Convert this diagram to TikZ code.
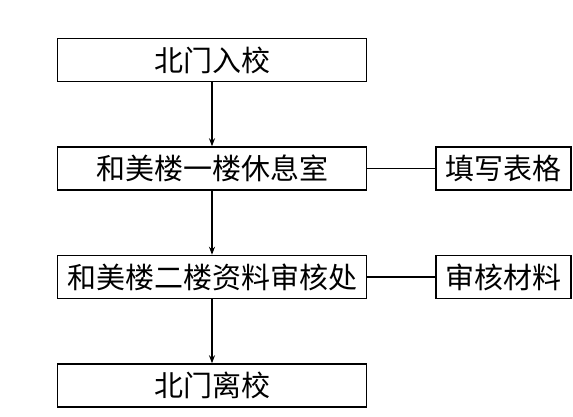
\documentclass[tikz,border=0pt]{standalone}
\usepackage{fontspec}
\newfontfamily\cjk{Noto Sans CJK SC}
\usetikzlibrary{arrows.meta,positioning}

\begin{document}
\begin{tikzpicture}[
  x=1pt, y=-1pt,
  node distance=64pt and 68pt,
  stage/.style={draw, line width=1.5pt, minimum width=309pt, minimum height=43pt, inner sep=0pt, font=\cjk\fontsize{29}{31}\selectfont},
  task/.style={stage, minimum width=135pt},
  link/.style={line width=1.5pt},
  >={Stealth[length=8pt,width=6pt]}
]
\useasboundingbox (0,0) rectangle (573,416);

% Main flow
\node[stage] (entry) at (212,60) {北门入校};
\node[stage, below=of entry] (rest) {和美楼一楼休息室};
\node[stage, below=of rest] (check) {和美楼二楼资料审核处};
\node[stage, below=of check] (exit) {北门离校};

% Side tasks
\node[task, right=of rest] (form) {填写表格};
\node[task, right=of check] (review) {审核材料};

% Edges
\draw[link, ->] (entry) -- (rest);
\draw[link, ->] (rest) -- (check);
\draw[link, ->] (check) -- (exit);
\draw[link] (rest) -- (form);
\draw[link] (check) -- (review);

\end{tikzpicture}
\end{document}
